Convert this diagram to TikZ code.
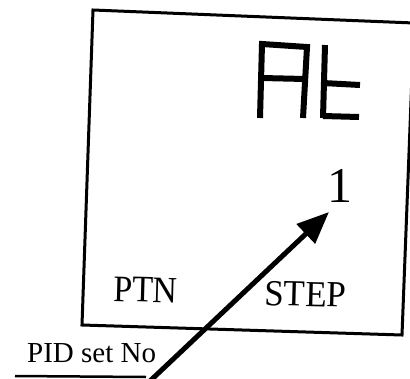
\documentclass[tikz,border=0pt]{standalone}
\usepackage{fontspec}
\setmainfont{Liberation Serif}
\usetikzlibrary{arrows.meta}
\begin{document}
\begin{tikzpicture}[x=1pt,y=-1pt,
  frame/.style={line width=3pt, line join=miter},
  seg/.style={line width=6pt, line cap=butt},
  lbl/.style={inner sep=0pt, anchor=base west},
  pointer/.style={line width=5pt, -{Triangle[length=32pt,width=26pt]}},
  uline/.style={line width=2.5pt}]
\useasboundingbox (0,0) rectangle (410,378);
% display frame
\draw[frame] (93,10) -- (414,23) -- (402,335) -- (82,325) -- cycle;
% seven-segment "At"
\draw[seg] (260,118) -- (262,44) -- (307,47) -- (303,118);
\draw[seg] (262,78) -- (305,79);
\draw[seg] (325,45) -- (323,118);
\draw[seg] (323,83) -- (360,85);
\draw[seg] (323,116) -- (359,117);
% texts
\node[lbl, font=\fontsize{34}{34}\selectfont, rotate=-1.5, yscale=1.1] (ptn) at (113,301) {PTN};
\node[lbl, font=\fontsize{35}{35}\selectfont, rotate=-1.5, yscale=1.05] (step) at (264,305) {STEP};
\node[inner sep=0pt, anchor=base, font=\fontsize{50}{50}\selectfont] (one) at (340,202) {1};
\node[lbl, font=\fontsize{29}{29}\selectfont] (pid) at (27,362) {PID set No};
% underline and pointer
\coordinate (ulA) at (15,376);
\coordinate (ulB) at (146,377);
\draw[uline] (ulA) -- (ulB);
\coordinate (arrS) at (150,381);
\coordinate (arrT) at (329,212);
\draw[pointer] (arrS) -- (arrT);
\end{tikzpicture}
\end{document}
